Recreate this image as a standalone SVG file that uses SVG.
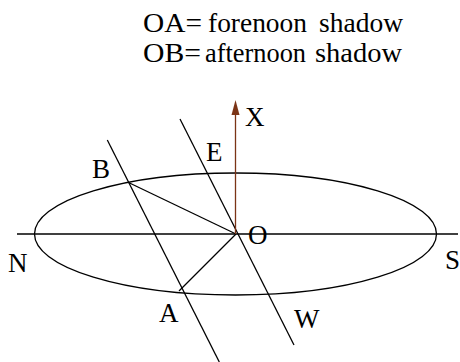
<svg xmlns="http://www.w3.org/2000/svg" width="460" height="362" viewBox="0 0 460 362">
<style>
text{font-family:"Liberation Serif","Times New Roman",serif;font-size:27px;fill:#000}
.ln{stroke:#000;stroke-width:1.3;fill:none}
</style>
<g id="title">
<text x="143" y="32" textLength="59" lengthAdjust="spacingAndGlyphs">OA=</text>
<text x="208" y="32" textLength="99" lengthAdjust="spacingAndGlyphs">forenoon</text>
<text x="319" y="32" textLength="84" lengthAdjust="spacingAndGlyphs">shadow</text>
<text x="143" y="62" textLength="58" lengthAdjust="spacingAndGlyphs">OB=</text>
<text x="205" y="62" textLength="101" lengthAdjust="spacingAndGlyphs">afternoon</text>
<text x="315" y="62" textLength="87" lengthAdjust="spacingAndGlyphs">shadow</text>
</g>
<g id="ellipse"><ellipse class="ln" cx="235.5" cy="234" rx="201" ry="61"/></g>
<g id="connectors">
<line class="ln" x1="17" y1="234" x2="458" y2="234"/>
<line class="ln" x1="107.3" y1="140" x2="219.3" y2="362"/>
<line class="ln" x1="180" y1="119" x2="294" y2="345"/>
<line class="ln" x1="128.5" y1="182.5" x2="236" y2="234"/>
<line class="ln" x1="236" y1="234" x2="179" y2="291"/>
<line x1="235.5" y1="234" x2="235.5" y2="114" stroke="#7b3416" stroke-width="1.3"/>
<path d="M231.5,115 L235.5,100 L239.5,115 Z" fill="#7b3416"/>
</g>
<g id="labels">
<text id="X" x="245" y="126">X</text>
<text id="E" x="206" y="161">E</text>
<text id="B" x="92" y="178">B</text>
<text id="O" x="248" y="244">O</text>
<text id="N" x="8" y="272">N</text>
<text id="S" x="445" y="269">S</text>
<text id="A" x="159" y="322">A</text>
<text id="W" x="294" y="328">W</text>
</g>
</svg>
